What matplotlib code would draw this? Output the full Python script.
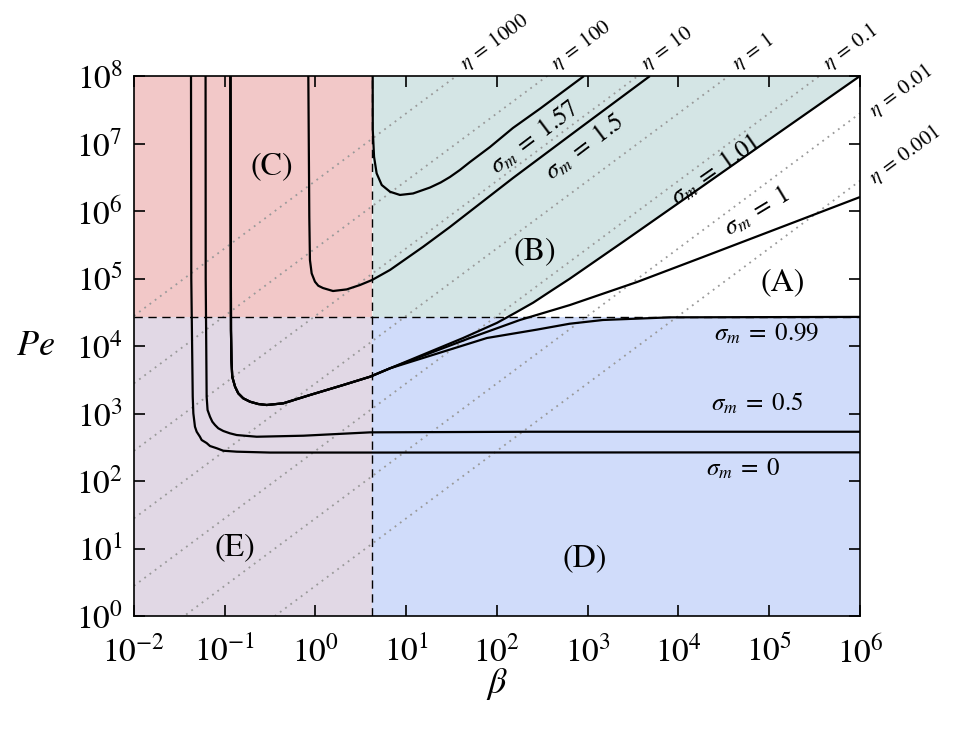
import numpy as np
import matplotlib
matplotlib.use('Agg')
import matplotlib.pyplot as plt
from matplotlib.ticker import LogLocator, NullLocator

plt.rcParams['font.family'] = ['STIXGeneral', 'DejaVu Serif']
plt.rcParams['mathtext.fontset'] = 'stix'

# ---------------- data ----------------
beta_c = 4.2        # vertical dashed boundary
pe_c = 2.7e4        # horizontal dashed boundary
eta_coef = 2800.0   # Pe = eta_coef * eta * beta  (dotted iso-eta lines)

eta_vals = [1000, 100, 10, 1, 0.1, 0.01, 0.001]
eta_labels = ['1000', '100', '10', '1', '0.1', '0.01', '0.001']

# sigma_m = 0
s0_beta = [0.0425, 0.0428, 0.0444, 0.0451, 0.047, 0.0491, 0.0533, 0.0557, 0.0632, 0.0688,
           0.0815, 0.0964, 0.1355, 0.315, 4.0, 1e6]
s0_pe = [1e8, 1e5, 1775, 1007, 637, 537, 453, 405, 365, 330, 306, 281, 272, 264, 264, 266]

# sigma_m = 0.5
s05_beta = [0.0615, 0.0617, 0.0632, 0.0647, 0.0688, 0.0730, 0.0781, 0.0849, 0.0964, 0.114,
            0.1355, 0.225, 0.734, 4.0, 231, 1e6]
s05_pe = [1e8, 1e5, 1775, 1127, 897, 756, 676, 604, 551, 509, 480, 453, 469, 526, 537, 537]

# common branch of sigma_m = 0.99, 1, 1.01
com_beta = [0.1156, 0.1172, 0.1186, 0.121, 0.130, 0.141, 0.160, 0.190, 0.234, 0.290,
            0.4416, 0.869, 2.02, 3.99, 6.63]
com_pe = [1e8, 17260, 6200, 3508, 2496, 1991, 1679, 1496, 1383, 1337, 1416, 1880, 2643,
          3508, 4677]

# sigma_m = 0.99 tail
s099_beta = [77.6, 276, 631, 1471, 8056, 1e6]
s099_pe = [13150, 17500, 21380, 24300, 26600, 27000]

# sigma_m = 1 tail
s1_beta = [50.4, 179, 637, 3489, 18600, 218000, 1e6]
s1_pe = [13150, 24300, 40500, 88700, 208000, 736000, 1.61e6]

# sigma_m = 1.01 tail
s101_beta = [42.4, 100, 158, 251, 398, 631, 2512, 15850, 1e5, 1e6]
s101_pe = [13150, 22030, 30900, 43950, 66070, 98860, 357300, 2.02e6, 1.148e7, 1e8]

# sigma_m = 1.5
s15_beta = [0.834, 0.855, 0.869, 0.908, 0.987, 1.074, 1.21, 1.56, 2.21, 3.09, 4.20, 6.63,
            10.1, 15.4, 30.3, 150, 822, 4850]
s15_pe = [1e8, 8.2e5, 1.88e5, 1.19e5, 8.97e4, 7.82e4, 7.23e4, 6.53e4, 6.9e4, 8.01e4, 9.5e4,
          1.34e5, 1.99e5, 2.96e5, 5.8e5, 3.08e6, 1.70e7, 1e8]

# sigma_m = 1.57
s157_beta = [4.27, 4.28, 4.42, 4.72, 5.37, 6.63, 8.53, 11.9, 18.3, 24.0, 30.3, 39.0, 50.4,
             83.7, 150, 298, 910]
s157_pe = [1e8, 1.58e7, 6.37e6, 3.62e6, 2.43e6, 1.93e6, 1.73e6, 1.82e6, 2.23e6, 2.65e6,
           3.19e6, 4.05e6, 5.32e6, 8.87e6, 1.70e7, 3.28e7, 1e8]

# ---------------- figure ----------------
fig = plt.figure(figsize=(9.57, 7.31), dpi=100)
ax = fig.add_axes([0.140, 0.1573, 0.7586, 0.7387])
ax.set_xscale('log')
ax.set_yscale('log')
xmin, xmax, ymin, ymax = 1e-2, 1e6, 1e0, 1e8
ax.set_xlim(xmin, xmax)
ax.set_ylim(ymin, ymax)

col_C = '#f2c8c8'
col_B = '#d4e5e5'
col_E = '#e1d8e5'
col_D = '#d0dcfa'

ax.fill_between([xmin, beta_c], pe_c, ymax, color=col_C, lw=0, zorder=0)
ax.fill_between([xmin, beta_c], ymin, pe_c, color=col_E, lw=0, zorder=0)
ax.fill_between([beta_c, xmax], ymin, pe_c, color=col_D, lw=0, zorder=0)

b101 = np.array(com_beta + s101_beta)
p101 = np.array(com_pe + s101_pe)
mask = b101 > beta_c
bx = np.concatenate([[beta_c], b101[mask]])
by = np.maximum(np.concatenate([[pe_c], p101[mask]]), pe_c)
ax.fill_between(bx, by, ymax, color=col_B, lw=0, zorder=0)

# dotted iso-eta lines
bb = np.array([xmin, xmax])
for eta, lab in zip(eta_vals, eta_labels):
    ax.plot(bb, eta_coef * eta * bb, color='0.6', lw=1.3, ls=(0, (1.0, 2.6)), zorder=1)
    b_end = min(xmax, ymax / (eta_coef * eta))
    p_end = eta_coef * eta * b_end
    off = (9, 1) if b_end < xmax else (13, -6)
    ax.annotate(r'$\eta\:=\:%s$' % lab, (b_end, p_end), xytext=off,
                textcoords='offset points', rotation=36.6, rotation_mode='anchor',
                ha='left', va='bottom', fontsize=15, annotation_clip=False)

# dashed boundaries
ax.axvline(beta_c, color='k', lw=1.0, ls=(0, (6, 4)), zorder=2)
ax.axhline(pe_c, color='k', lw=1.0, ls=(0, (6, 4)), zorder=2)

# curves
kw = dict(color='k', lw=1.6, zorder=3, solid_capstyle='butt', solid_joinstyle='round')
ax.plot(s0_beta, s0_pe, **kw)
ax.plot(s05_beta, s05_pe, **kw)
ax.plot(com_beta + s099_beta, com_pe + s099_pe, **kw)
ax.plot(com_beta + s1_beta, com_pe + s1_pe, **kw)
ax.plot(com_beta + s101_beta, com_pe + s101_pe, **kw)
ax.plot(s15_beta, s15_pe, **kw)
ax.plot(s157_beta, s157_pe, **kw)

# curve labels
fs_s = 18
ax.text(262, 1.2e7, r'$\sigma_m\;=\;1.57$', rotation=37, fontsize=fs_s, ha='center', va='center')
ax.text(933, 8.6e6, r'$\sigma_m\;=\;1.5$', rotation=37, fontsize=fs_s, ha='center', va='center')
ax.text(25900, 4.05e6, r'$\sigma_m\;=\;1.01$', rotation=35, fontsize=fs_s, ha='center', va='center')
ax.text(73300, 9.7e5, r'$\sigma_m\;=\;1$', rotation=31, fontsize=fs_s, ha='center', va='center')
ax.text(94400, 1.46e4, r'$\sigma_m\;=\;0.99$', fontsize=fs_s, ha='center', va='center')
ax.text(73300, 1380, r'$\sigma_m\;=\;0.5$', fontsize=fs_s, ha='center', va='center')
ax.text(51400, 146, r'$\sigma_m\;=\;0$', fontsize=fs_s, ha='center', va='center')

# region labels
fs_r = 23
ax.text(1.42e5, 8.6e4, '(A)', fontsize=fs_r, ha='center', va='center')
ax.text(262, 2.47e5, '(B)', fontsize=fs_r, ha='center', va='center')
ax.text(0.332, 4.49e6, '(C)', fontsize=fs_r, ha='center', va='center')
ax.text(933, 7.2, '(D)', fontsize=fs_r, ha='center', va='center')
ax.text(0.130, 10.2, '(E)', fontsize=fs_r, ha='center', va='center')

# axes styling
for axis in (ax.xaxis, ax.yaxis):
    axis.set_major_locator(LogLocator(base=10, numticks=20))
    axis.set_minor_locator(NullLocator())
ax.tick_params(which='major', direction='in', top=True, right=True, length=8,
               width=1.2, labelsize=24)
ax.tick_params(axis='x', pad=14)
ax.tick_params(axis='y', pad=8)
for s in ax.spines.values():
    s.set_linewidth(1.2)

ax.set_xlabel(r'$\beta$', fontsize=26, va='top')
ax.xaxis.set_label_coords(0.5, -0.093)
ax.set_ylabel(r'$Pe$', fontsize=26, rotation=0, ha='center', va='center')
ax.yaxis.set_label_coords(-0.135, 0.5)

fig.savefig('out.png', dpi=100)
